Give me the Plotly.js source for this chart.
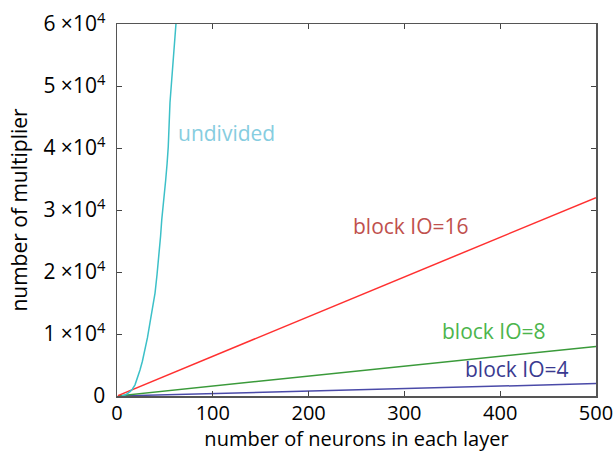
<!DOCTYPE html>
<html>
<head>
<meta charset="utf-8">
<script src="https://cdn.plot.ly/plotly-3.0.1.min.js"></script>
<style>html,body{margin:0;padding:0;background:#fff;}#chart{width:615px;height:452px;}</style>
</head>
<body>
<div id="chart"></div>
<script>
// Undivided (jagged curve)
const undividedN = [4.9, 9, 13.6, 16, 18.8, 21.5, 24.0, 26.5, 29.2, 31.8, 34.4, 37.0, 39.7, 41.8, 43.8, 45.5, 46.7, 48.3, 50.8, 52.3, 53.5, 55.3, 57.0, 58.8, 60.2, 61.6, 63.5];
const undividedY = [0, 200, 700, 1100, 1800, 2900, 4200, 5600, 7400, 9400, 11800, 14000, 16600, 19600, 22500, 25800, 28400, 30500, 34800, 37500, 40200, 47300, 51000, 55300, 57800, 60000, 64000];
// Block IO lines
const blockN = [1, 500];
const io16Y = [64, 32000];
const io8Y = [16, 8000];
const io4Y = [4, 2000];

const xTicks = [0, 100, 200, 300, 400, 500];
const yTickVals = [0, 10000, 20000, 30000, 40000, 50000, 60000];
const yTickText = ['0', '1 ×10<sup>4</sup>', '2 ×10<sup>4</sup>', '3 ×10<sup>4</sup>', '4 ×10<sup>4</sup>', '5 ×10<sup>4</sup>', '6 ×10<sup>4</sup>'];

const FONT = 'Open Sans, Liberation Sans, sans-serif';
const FS = 21;

const traces = [
  {x: blockN, y: io4Y, mode: 'lines', line: {color: '#4a4aa8', width: 1.5}, name: 'block IO=4'},
  {x: blockN, y: io8Y, mode: 'lines', line: {color: '#3a9a3a', width: 1.5}, name: 'block IO=8'},
  {x: blockN, y: io16Y, mode: 'lines', line: {color: '#ff3030', width: 1.5}, name: 'block IO=16'},
  {x: undividedN, y: undividedY, mode: 'lines', line: {color: '#3cc0c8', width: 1.5}, name: 'undivided'}
];

const layout = {
  width: 615, height: 452,
  margin: {l: 117, r: 19, t: 24, b: 56},
  paper_bgcolor: '#fff', plot_bgcolor: '#fff',
  showlegend: false,
  font: {family: FONT, size: FS, color: '#000'},
  xaxis: {
    range: [0, 500], tickvals: xTicks, ticktext: xTicks.map(String),
    ticks: 'inside', ticklen: 5, tickcolor: '#444', mirror: 'ticks',
    showline: true, linecolor: '#555', linewidth: 1.5, showgrid: false, zeroline: false,
    ticklabelstandoff: -2,
    tickfont: {family: FONT, size: 20, color: '#000'},
    title: {text: 'number of neurons in each layer', font: {family: FONT, size: 20, color: '#000'}, standoff: 6}
  },
  yaxis: {
    range: [0, 60000], tickvals: yTickVals, ticktext: yTickText,
    ticks: 'inside', ticklen: 5, tickcolor: '#444', mirror: 'ticks',
    showline: true, linecolor: '#555', linewidth: 1.5, showgrid: false, zeroline: false,
    ticklabelstandoff: 6,
    tickfont: {family: FONT, size: FS, color: '#000'},
    title: {text: 'number of multiplier', font: {family: FONT, size: FS, color: '#000'}, standoff: 10}
  },
  annotations: [
    {x: 61.6, y: 42400, text: 'undivided', xanchor: 'left', yanchor: 'middle', showarrow: false, font: {family: FONT, size: FS, color: '#86cde0'}},
    {x: 244, y: 27400, text: 'block IO=16', xanchor: 'left', yanchor: 'middle', showarrow: false, font: {family: FONT, size: FS, color: '#c0504d'}},
    {x: 337, y: 10500, text: 'block IO=8', xanchor: 'left', yanchor: 'middle', showarrow: false, font: {family: FONT, size: FS, color: '#4cb54c'}},
    {x: 361, y: 4350, text: 'block IO=4', xanchor: 'left', yanchor: 'middle', showarrow: false, font: {family: FONT, size: FS, color: '#3a3a90'}}
  ]
};

Plotly.newPlot('chart', traces, layout, {staticPlot: true, displayModeBar: false});
</script>
</body>
</html>
